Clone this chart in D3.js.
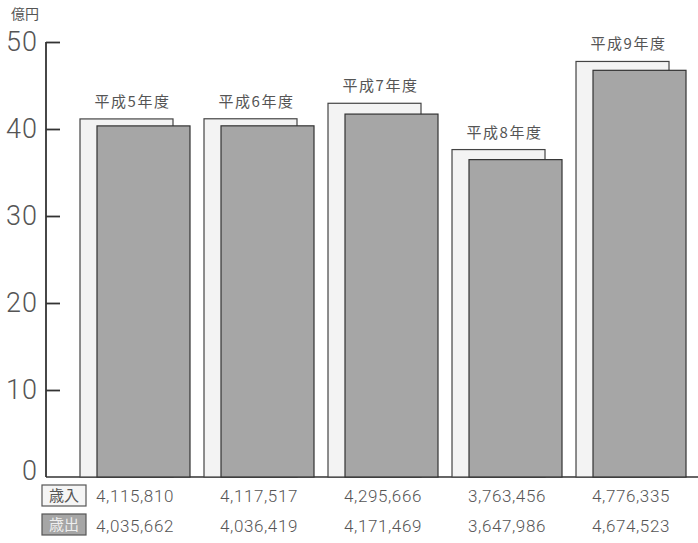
<!DOCTYPE html>
<html>
<head>
<meta charset="utf-8">
<script src="https://cdn.jsdelivr.net/npm/d3@7"></script>
<style>
  body { margin: 0; background: #fff; }
  svg { display: block; }
  text { font-family: "Noto Sans CJK JP", "Noto Sans", sans-serif; fill: #555; }
</style>
</head>
<body>
<div id="chart"></div>
<script>
// 年度 / 歳入 / 歳出 (千円)
var years = ["平成5年度", "平成6年度", "平成7年度", "平成8年度", "平成9年度"];
var revenue = [4115810, 4117517, 4295666, 3763456, 4776335];
var expenditure = [4035662, 4036419, 4171469, 3647986, 4674523];
var yTicks = [0, 10, 20, 30, 40, 50];
var rowLabels = ["歳入", "歳出"];

var param = {
  width : 698,
  height : 543,
  axisX : 46,
  top : 42,
  base : 477,
  barW : 93,
  offset : 17
};

function draw() {
  var svg = d3.select("#chart")
              .append("svg")
              .attr("width", param.width)
              .attr("height", param.height);

  var x = d3.scaleBand()
            .domain(years)
            .range([80, 686])
            .paddingInner(0.113)
            .paddingOuter(0);

  var y = d3.scaleLinear()
            .domain([0, 50])
            .range([param.base, param.top]);

  // 億円 に換算
  var oku = function(v) { return v / 100000; };

  // baseline
  svg.append("line")
     .attr("x1", param.axisX).attr("x2", param.width)
     .attr("y1", param.base).attr("y2", param.base)
     .style("stroke", "#333").style("stroke-width", 1.5);

  // y axis
  var yAxis = d3.axisLeft(y)
                .tickValues(yTicks)
                .tickSize(-14)
                .tickPadding(22);
  var ga = svg.append("g")
              .attr("transform", "translate(" + param.axisX + ",0)")
              .call(yAxis);
  ga.select(".domain").style("stroke", "#333").style("stroke-width", 1.8)
    .attr("d", "M0," + param.top + "V" + param.base);
  ga.selectAll(".tick line").style("stroke", "#333").style("stroke-width", 1.8);
  ga.selectAll(".tick").filter(function(d) { return d === 0; }).select("line").remove();
  ga.selectAll(".tick text")
    .attr("x", -8)
    .style("font-family", "Roboto, sans-serif")
    .style("font-weight", 300)
    .style("font-size", "27px")
    .style("letter-spacing", "1px")
    .style("fill", "#555");
  ga.selectAll(".tick").filter(function(d) { return d === 0; }).select("text")
    .attr("dy", "0.1em");

  svg.append("text")
     .attr("x", 25).attr("y", 19)
     .attr("text-anchor", "middle")
     .style("font-size", "14px")
     .text("億円");

  var groups = svg.selectAll(".grp")
                  .data(years)
                  .enter()
                  .append("g")
                  .attr("class", "grp");

  groups.append("rect")
        .attr("x", function(d) { return x(d); })
        .attr("y", function(d, i) { return y(oku(revenue[i])); })
        .attr("width", param.barW)
        .attr("height", function(d, i) { return param.base - y(oku(revenue[i])); })
        .style("fill", "#f3f3f3")
        .style("stroke", "#444")
        .style("stroke-width", 1.2);

  groups.append("rect")
        .attr("x", function(d) { return x(d) + param.offset; })
        .attr("y", function(d, i) { return y(oku(expenditure[i])); })
        .attr("width", param.barW)
        .attr("height", function(d, i) { return param.base - y(oku(expenditure[i])); })
        .style("fill", "#a6a6a6")
        .style("stroke", "#333")
        .style("stroke-width", 1.2);

  groups.append("text")
        .attr("x", function(d) { return x(d) + param.barW / 2 + 6; })
        .attr("y", function(d, i) { return y(oku(revenue[i])) - 12; })
        .attr("text-anchor", "middle")
        .style("font-size", "15px")
        .style("letter-spacing", "1.5px")
        .text(function(d) { return d; });

  var fmt = d3.format(",");
  groups.append("text")
        .attr("x", function(d) { return x(d) + x.bandwidth() / 2; })
        .attr("y", 502)
        .attr("text-anchor", "middle")
        .style("font-family", "Roboto, sans-serif")
        .style("font-weight", 300)
        .style("font-size", "17px")
        .style("letter-spacing", "0.6px")
        .text(function(d, i) { return fmt(revenue[i]); });

  groups.append("text")
        .attr("x", function(d) { return x(d) + x.bandwidth() / 2; })
        .attr("y", 532)
        .attr("text-anchor", "middle")
        .style("font-family", "Roboto, sans-serif")
        .style("font-weight", 300)
        .style("font-size", "17px")
        .style("letter-spacing", "0.6px")
        .text(function(d, i) { return fmt(expenditure[i]); });

  // 歳入 / 歳出 のラベル
  var rows = svg.selectAll(".row")
                .data(rowLabels)
                .enter()
                .append("g")
                .attr("class", "row")
                .attr("transform", function(d, i) { return "translate(42," + (485 + i * 29) + ")"; });
  rows.append("rect")
      .attr("width", 44).attr("height", 21)
      .style("fill", function(d, i) { return i === 0 ? "#f5f5f5" : "#a6a6a6"; })
      .style("stroke", "#555")
      .style("stroke-width", 1.2);
  rows.append("text")
      .attr("x", 22).attr("y", 16)
      .attr("text-anchor", "middle")
      .style("font-size", "15px")
      .style("fill", function(d, i) { return i === 0 ? "#555" : "#eee"; })
      .text(function(d) { return d; });
}

draw();
</script>
</body>
</html>
